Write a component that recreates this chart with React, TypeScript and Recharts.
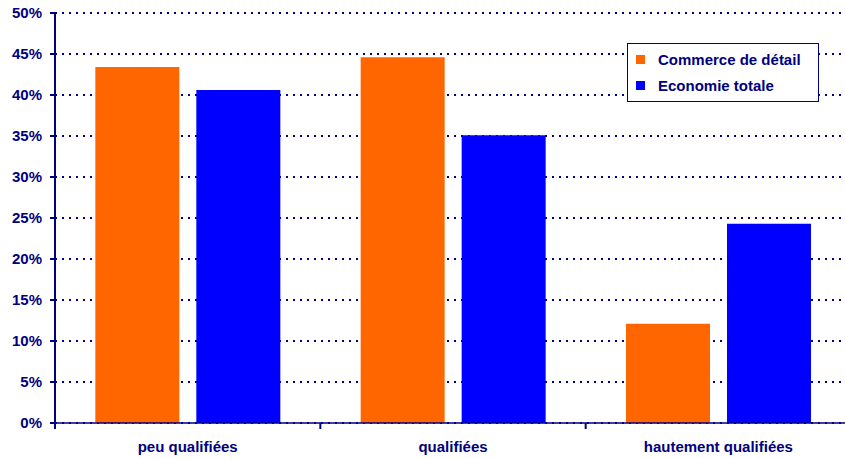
import { Bar, BarChart, CartesianGrid, XAxis, YAxis } from "recharts";

const categories = ["peu qualifiées", "qualifiées", "hautement qualifiées"];
const commerceDetail = [43.4, 44.6, 12.1];
const economieTotale = [40.6, 35.1, 24.3];
const yTicks = [0, 5, 10, 15, 20, 25, 30, 35, 40, 45, 50];

const data = categories.map((c, i) => ({
  name: c,
  commerce: commerceDetail[i],
  economie: economieTotale[i],
}));

const NAVY = "#000080";
const FONT = "'Liberation Sans', Arial, sans-serif";

const W = 845;
const H = 459;
const Y_AXIS_W = 55;
const RIGHT = -6;
const bandSize = (W - Y_AXIS_W - RIGHT) / categories.length;

function CategoryTick(props: any) {
  const { x, y, payload } = props;
  const left = x - bandSize / 2;
  return (
    <g>
      <line x1={left} x2={left} y1={y - 8} y2={y - 2} stroke={NAVY} strokeWidth={2} />
      <text
        x={x}
        y={y + 21}
        textAnchor="middle"
        fill={NAVY}
        fontFamily={FONT}
        fontWeight="bold"
        fontSize={15}
      >
        {payload.value}
      </text>
    </g>
  );
}

function LegendBox() {
  const items = [
    { label: "Commerce de détail", color: "#FF6600" },
    { label: "Economie totale", color: "#0000FF" },
  ];
  return (
    <div
      style={{
        position: "absolute",
        left: 627,
        top: 43,
        width: 182,
        height: 55,
        border: `1.5px solid ${NAVY}`,
        background: "#fff",
        padding: "2px 0 0 8px",
        boxSizing: "content-box",
        fontFamily: FONT,
        fontWeight: "bold",
        fontSize: 15,
        color: NAVY,
      }}
    >
      {items.map((it) => (
        <div key={it.label} style={{ display: "flex", alignItems: "center", height: 26, whiteSpace: "nowrap" }}>
          <span
            style={{
              width: 9,
              height: 9,
              background: it.color,
              display: "inline-block",
              marginRight: 13,
              flexShrink: 0,
            }}
          />
          {it.label}
        </div>
      ))}
    </div>
  );
}

export default function App() {
  return (
    <div style={{ position: "absolute", left: 0, top: 0, width: W, height: H, background: "#fff", overflow: "hidden" }}>
      <BarChart
        width={W}
        height={H}
        data={data}
        margin={{ top: 13, right: RIGHT, bottom: 0, left: 0 }}
        barCategoryGap="15.2%"
        barGap={17}
        style={{ overflow: "visible" }}
      >
        <CartesianGrid
          horizontal
          vertical={false}
          stroke={NAVY}
          strokeWidth={2}
          strokeDasharray="2 5"
        />
        <XAxis
          dataKey="name"
          height={36}
          axisLine={{ stroke: NAVY, strokeWidth: 1.5 }}
          tickLine={false}
          tick={<CategoryTick />}
          interval={0}
        />
        <YAxis
          width={Y_AXIS_W}
          domain={[0, 50]}
          ticks={yTicks}
          tickFormatter={(v: number) => `${v}%`}
          axisLine={{ stroke: NAVY, strokeWidth: 2 }}
          tickLine={{ stroke: NAVY, strokeWidth: 2 }}
          tickSize={5}
          tick={{ fill: NAVY, fontFamily: FONT, fontWeight: "bold", fontSize: 15, dx: -6 }}
          interval={0}
        />
        <Bar dataKey="commerce" name="Commerce de détail" fill="#FF6600" isAnimationActive={false} />
        <Bar dataKey="economie" name="Economie totale" fill="#0000FF" isAnimationActive={false} />
      </BarChart>
      <LegendBox />
    </div>
  );
}
